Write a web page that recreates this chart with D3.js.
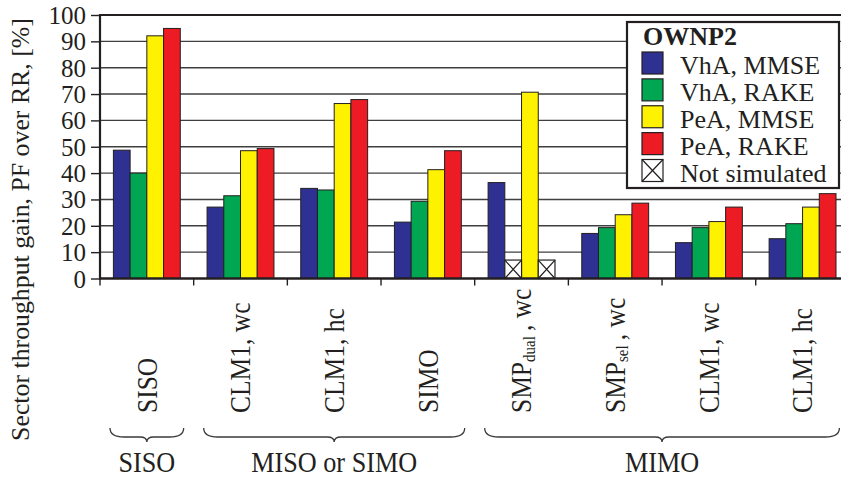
<!DOCTYPE html>
<html>
<head>
<meta charset="utf-8">
<script src="https://cdn.jsdelivr.net/npm/d3@7"></script>
<style>
  html, body { margin: 0; padding: 0; background: #fff; overflow: hidden; }
  svg { display: block; font-family: "Liberation Serif", "Times New Roman", serif; }
</style>
</head>
<body>
<svg id="chart" width="841" height="478"></svg>
<script>
// ---- data ----
const categories = ["SISO", "CLM1, wc", "CLM1, hc", "SIMO", "SMP dual, wc", "SMP sel, wc", "CLM1, wc ", "CLM1, hc "];
const catMain = ["SISO", "CLM1, wc", "CLM1, hc", "SIMO", "SMP", "SMP", "CLM1, wc", "CLM1, hc"];
const catSub  = ["", "", "", "", "dual", "sel", "", ""];
const catTail = ["", "", "", "", "\u2009, wc", "\u2009, wc", "", ""];
const seriesNames = ["VhA, MMSE", "VhA, RAKE", "PeA, MMSE", "PeA, RAKE"];
const vhaMmse = [48.7, 27.1, 34.2, 21.4, 36.4, 17.1, 13.6, 15.1];
const vhaRake = [40.0, 31.4, 33.6, 29.3, null, 19.3, 19.3, 20.8];
const peaMmse = [92.1, 48.5, 66.4, 41.3, 70.7, 24.2, 21.6, 27.1];
const peaRake = [94.9, 49.3, 67.9, 48.5, null, 28.6, 27.1, 32.2];
const notSimulatedLevel = 7;
const yTicks = [0, 10, 20, 30, 40, 50, 60, 70, 80, 90, 100];
const groups = [
  { label: "SISO", first: 0, last: 0 },
  { label: "MISO or SIMO", first: 1, last: 3 },
  { label: "MIMO", first: 4, last: 7 }
];
const yTitle = "Sector throughput gain, PF over RR, [%]";
const legendTitle = "OWNP2";
const notSimLabel = "Not simulated";
const colors = ["#2E3192", "#00A651", "#FFF200", "#ED1C24"];

const seriesValues = [vhaMmse, vhaRake, peaMmse, peaRake];

// ---- layout ----
const svg = d3.select("#chart");
const mLeft = 100, mTop = 15, mBottom = 278.5, mRight = 849.4;
const textColor = "#231F20";

const x0 = d3.scaleBand().domain(d3.range(categories.length)).range([mLeft, mRight]).padding(0);
const bw = x0.bandwidth();
const x1 = d3.scaleBand().domain(d3.range(seriesNames.length)).range([bw * 0.143, bw * 0.857]).padding(0);
const y = d3.scaleLinear().domain([0, 100]).range([mBottom, mTop]);

// gridlines
svg.append("g").selectAll("line").data(yTicks.filter(d => d > 0 && d < 100)).join("line")
  .attr("x1", mLeft).attr("x2", 841)
  .attr("y1", d => y(d)).attr("y2", d => y(d))
  .attr("stroke", "#3f3f3f").attr("stroke-width", 1.4);

// y axis
const yAxis = d3.axisLeft(y).tickValues(yTicks).tickSize(9).tickPadding(5).tickSizeOuter(0);
const gy = svg.append("g").attr("transform", `translate(${mLeft},0)`).call(yAxis);
gy.select(".domain").remove();
gy.selectAll(".tick line").attr("stroke", "#231F20").attr("stroke-width", 1.4);
gy.selectAll(".tick text").attr("fill", textColor).attr("font-size", 25)
  .attr("font-family", "'Liberation Serif', 'Times New Roman', serif").attr("dy", "0.34em");

// bars
const cat = svg.append("g").selectAll("g").data(d3.range(categories.length)).join("g")
  .attr("transform", i => `translate(${x0(i)},0)`);
cat.selectAll("rect.bar").data(i => seriesValues.map((s, k) => ({ k, v: s[i] })).filter(d => d.v != null))
  .join("rect").attr("class", "bar")
  .attr("x", d => x1(d.k)).attr("width", x1.bandwidth())
  .attr("y", d => y(d.v)).attr("height", d => y(0) - y(d.v))
  .attr("fill", d => colors[d.k]).attr("stroke", "#231F20").attr("stroke-width", 1);

// not simulated boxes
const ns = cat.selectAll("g.ns").data(i => seriesValues.map((s, k) => ({ k, v: s[i] })).filter(d => d.v == null))
  .join("g").attr("class", "ns");
ns.append("rect")
  .attr("x", d => x1(d.k)).attr("width", x1.bandwidth())
  .attr("y", y(notSimulatedLevel)).attr("height", y(0) - y(notSimulatedLevel))
  .attr("fill", "#fff").attr("stroke", "#231F20").attr("stroke-width", 1.2);
ns.append("path")
  .attr("d", d => {
    const a = x1(d.k), b = a + x1.bandwidth(), t = y(notSimulatedLevel), u = y(0);
    return `M${a},${t}L${b},${u}M${b},${t}L${a},${u}`;
  })
  .attr("stroke", "#231F20").attr("stroke-width", 1.2);

// frame: top, left, bottom
svg.append("line").attr("x1", mLeft).attr("x2", 841).attr("y1", y(100)).attr("y2", y(100))
  .attr("stroke", "#231F20").attr("stroke-width", 2.2);
svg.append("line").attr("x1", mLeft).attr("x2", mLeft).attr("y1", y(100) - 1).attr("y2", y(0) + 1)
  .attr("stroke", "#231F20").attr("stroke-width", 2.2);
svg.append("line").attr("x1", mLeft).attr("x2", 841).attr("y1", y(0)).attr("y2", y(0))
  .attr("stroke", "#231F20").attr("stroke-width", 2.4);

// x category ticks
svg.append("g").selectAll("line").data(d3.range(categories.length)).join("line")
  .attr("x1", i => x0(i)).attr("x2", i => x0(i))
  .attr("y1", y(0)).attr("y2", y(0) + 7)
  .attr("stroke", "#231F20").attr("stroke-width", 1.4);

// category labels (rotated)
const labY = 413;
const lab = svg.append("g").selectAll("text").data(d3.range(categories.length)).join("text")
  .attr("transform", i => `translate(${x0(i) + bw / 2},${labY}) rotate(-90) scale(1,1.15)`)
  .attr("dy", "0.33em")
  .attr("font-size", 25.5).attr("fill", textColor).attr("text-anchor", "start");
lab.each(function(i) {
  const t = d3.select(this);
  t.append("tspan").text(catMain[i]);
  if (catSub[i]) {
    t.append("tspan").attr("font-size", 15).attr("dy", 3).text(catSub[i]);
    t.append("tspan").attr("dy", -3).text(catTail[i]);
  }
});

// braces
const braceTop = 428, braceMid = 437, braceTip = 442;
svg.append("g").selectAll("path").data(groups).join("path")
  .attr("d", g => {
    const a = x0(g.first) + 10, b = x0(g.last) + bw - 10, c = (a + b) / 2;
    return `M${a},${braceTop}Q${a},${braceMid} ${a + 14},${braceMid}L${c - 7},${braceMid}` +
           `Q${c},${braceMid} ${c},${braceTip}Q${c},${braceMid} ${c + 7},${braceMid}` +
           `L${b - 14},${braceMid}Q${b},${braceMid} ${b},${braceTop}`;
  })
  .attr("fill", "none").attr("stroke", "#3a3a3a").attr("stroke-width", 1.3);

// group labels
svg.append("g").selectAll("text").data(groups).join("text")
  .attr("transform", g => `translate(${(x0(g.first) + x0(g.last) + bw) / 2},472) scale(0.97,1.07)`)
  .attr("text-anchor", "middle").attr("font-size", 27).attr("fill", textColor)
  .text(g => g.label);

// y title
svg.append("text")
  .attr("transform", `translate(29,229.5) rotate(-90)`)
  .attr("text-anchor", "middle").attr("font-size", 25.8).attr("fill", textColor)
  .text(yTitle);

// legend
const lg = svg.append("g");
lg.append("rect").attr("x", 627).attr("y", 22).attr("width", 212).attr("height", 166)
  .attr("fill", "#fff").attr("stroke", "#231F20").attr("stroke-width", 2.2);
lg.append("text").attr("x", 643).attr("y", 45).attr("font-size", 26).attr("font-weight", "bold")
  .attr("fill", textColor).text(legendTitle);
const rowY = d3.scaleLinear().domain([0, 4]).range([74, 181.5]);
const items = seriesNames.map((n, k) => ({ n, k })).concat([{ n: notSimLabel, k: -1 }]);
const li = lg.selectAll("g.item").data(items).join("g").attr("class", "item");
li.append("rect")
  .attr("x", 642).attr("y", (d, i) => rowY(i) - 22).attr("width", 21).attr("height", 22)
  .attr("fill", d => d.k >= 0 ? colors[d.k] : "#fff").attr("stroke", "#231F20").attr("stroke-width", 1.2);
li.filter(d => d.k < 0).append("path")
  .attr("d", (d) => { const t = rowY(4) - 22, b = rowY(4); return `M642,${t}L663,${b}M663,${t}L642,${b}`; })
  .attr("stroke", "#231F20").attr("stroke-width", 1.2);
li.append("text").attr("x", 680).attr("y", (d, i) => rowY(i))
  .attr("font-size", 26).attr("fill", textColor).text(d => d.n);
</script>
</body>
</html>
